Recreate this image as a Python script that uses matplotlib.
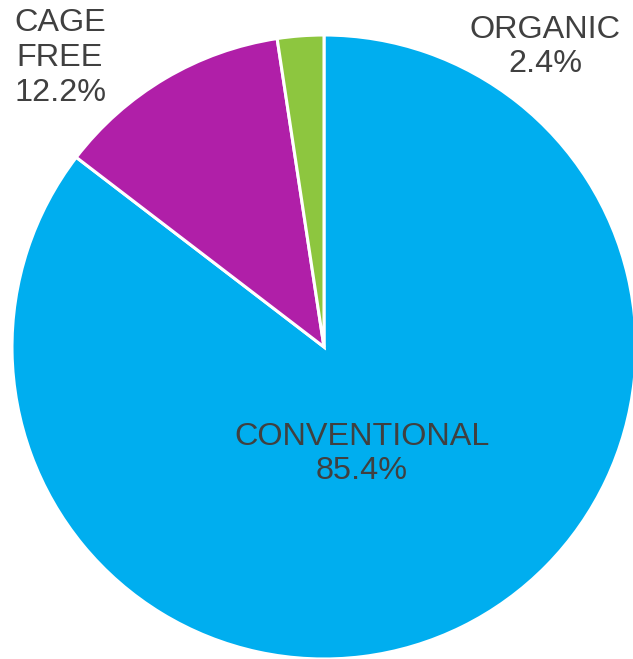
import matplotlib.pyplot as plt

plt.rcParams['font.family'] = ['Liberation Sans', 'DejaVu Sans']

#%% Data
categories = ['CONVENTIONAL', 'CAGE\nFREE', 'ORGANIC']
shares = [85.4, 12.2, 2.4]
colors = ['#00AEEF', '#B01FA8', '#8DC63F']

#%% Layout (pixels of the 633x659 figure)
W, H = 633, 659
cx, cy, r = 324, 347, 312

fig = plt.figure(figsize=(W / 100, H / 100), dpi=100)
ax = fig.add_axes([0, 0, 1, 1])
ax.pie(shares, colors=colors, startangle=90, counterclock=False,
       radius=1, center=(0, 0),
       wedgeprops=dict(edgecolor='white', linewidth=2.2))
ax.set_xlim(-cx / r, (W - cx) / r)
ax.set_ylim(-(H - cy) / r, cy / r)
ax.set_aspect('auto')
ax.axis('off')

# label positions in pixels
label_pos = [(362, 454), (60, 58), (545, 47)]
for name, val, (px, py) in zip(categories, shares, label_pos):
    ax.text((px - cx) / r, (cy - py) / r, f'{name}\n{val}%',
            ha='center', va='center', fontsize=23.3, color='#404040',
            linespacing=1.2)

fig.savefig('out.png', dpi=100)
